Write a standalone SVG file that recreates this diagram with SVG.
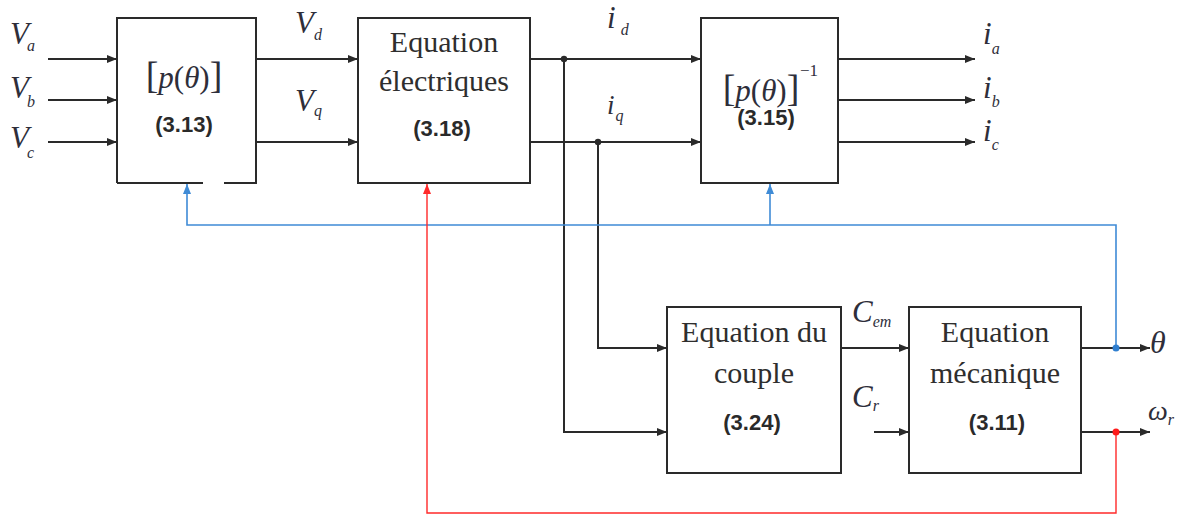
<svg xmlns="http://www.w3.org/2000/svg" width="1180" height="515" viewBox="0 0 1180 515">
<style>
.box{fill:#fff;stroke:#2a2a2a;stroke-width:2}
.w{fill:none;stroke:#2a2a2a;stroke-width:2}
.blue{fill:none;stroke:#3f8bd6;stroke-width:1.6}
.red{fill:none;stroke:#ff2a2a;stroke-width:1.4}
.t{font-family:"Liberation Serif",serif;font-size:30px;fill:#2e2e2e;text-anchor:middle}
.n{font-family:"Liberation Sans",sans-serif;font-weight:bold;font-size:22px;fill:#2a2a2a;text-anchor:middle}
.m{font-family:"Liberation Serif",serif;font-style:italic;fill:#2e2e3a}
.big{font-size:31px}
.sub{font-size:16px}
</style>
<defs>
<marker id="ak" markerUnits="userSpaceOnUse" markerWidth="10" markerHeight="8" refX="10" refY="4" orient="auto"><path d="M0,0 L10,4 L0,8 z" fill="#2a2a2a"/></marker>
<marker id="ab" markerUnits="userSpaceOnUse" markerWidth="10" markerHeight="8" refX="10" refY="4" orient="auto"><path d="M0,0 L10,4 L0,8 z" fill="#3f8bd6"/></marker>
<marker id="ar" markerUnits="userSpaceOnUse" markerWidth="10" markerHeight="8" refX="10" refY="4" orient="auto"><path d="M0,0 L10,4 L0,8 z" fill="#ff2a2a"/></marker>
</defs>

<g id="connectors">
  <line class="w" x1="48" y1="59" x2="117" y2="59" marker-end="url(#ak)"/>
  <line class="w" x1="48" y1="100" x2="117" y2="100" marker-end="url(#ak)"/>
  <line class="w" x1="48" y1="142" x2="117" y2="142" marker-end="url(#ak)"/>
  <line class="w" x1="256" y1="59" x2="358" y2="59" marker-end="url(#ak)"/>
  <line class="w" x1="256" y1="142" x2="358" y2="142" marker-end="url(#ak)"/>
  <line class="w" x1="530" y1="59" x2="701" y2="59" marker-end="url(#ak)"/>
  <line class="w" x1="530" y1="142" x2="701" y2="142" marker-end="url(#ak)"/>
  <line class="w" x1="838" y1="59" x2="975" y2="59" marker-end="url(#ak)"/>
  <line class="w" x1="838" y1="100" x2="975" y2="100" marker-end="url(#ak)"/>
  <line class="w" x1="838" y1="142" x2="975" y2="142" marker-end="url(#ak)"/>
  <polyline class="w" points="598,142 598,348 667,348" marker-end="url(#ak)"/>
  <polyline class="w" points="564,59 564,432 667,432" marker-end="url(#ak)"/>
  <line class="w" x1="841" y1="348" x2="909" y2="348" marker-end="url(#ak)"/>
  <line class="w" x1="874" y1="432" x2="909" y2="432" marker-end="url(#ak)"/>
  <line class="w" x1="1081" y1="348" x2="1150" y2="348" marker-end="url(#ak)"/>
  <line class="w" x1="1081" y1="432" x2="1150" y2="432" marker-end="url(#ak)"/>
  <circle cx="564" cy="59" r="3.2" fill="#2a2a2a"/>
  <circle cx="598" cy="142" r="3.2" fill="#2a2a2a"/>
  <polyline class="blue" points="1116,348 1116,225 187,225 187,184" marker-end="url(#ab)"/>
  <line class="blue" x1="770" y1="225" x2="770" y2="184" marker-end="url(#ab)"/>
  <polyline class="red" points="1116,432 1116,513 427,513 427,184" marker-end="url(#ar)"/>
  <circle cx="1116" cy="348" r="3.5" fill="#2f7fd0"/>
  <circle cx="1116" cy="432" r="3.5" fill="#ff1a1a"/>
</g>

<g id="park">
  <path class="w" d="M117,183 L117,18 L256,18 L256,183 L224,183 M203,183 L117,183"/>
  <text class="m" x="184" y="88" text-anchor="middle" font-size="31"><tspan font-style="normal" font-size="38">[</tspan>p<tspan font-style="normal">(</tspan>θ<tspan font-style="normal">)</tspan><tspan font-style="normal" font-size="38">]</tspan></text>
  <text class="n" x="184" y="132">(3.13)</text>
</g>

<g id="elec">
  <rect class="box" x="358" y="18" width="172" height="165"/>
  <text class="t" x="444" y="52">Equation</text>
  <text class="t" x="444" y="91">électriques</text>
  <text class="n" x="442" y="136">(3.18)</text>
</g>

<g id="invpark">
  <rect class="box" x="701" y="18" width="137" height="165"/>
  <text class="m" x="761" y="101" text-anchor="middle" font-size="31"><tspan font-style="normal" font-size="38">[</tspan>p<tspan font-style="normal">(</tspan>θ<tspan font-style="normal">)</tspan><tspan font-style="normal" font-size="38">]</tspan></text>
  <text x="800" y="76" font-family="Liberation Serif,serif" font-size="17" fill="#2e2e3a">−1</text>
  <text class="n" x="766" y="125">(3.15)</text>
</g>

<g id="couple">
  <rect class="box" x="667" y="307" width="174" height="166"/>
  <text class="t" x="754" y="342">Equation du</text>
  <text class="t" x="754" y="383">couple</text>
  <text class="n" x="752" y="430">(3.24)</text>
</g>

<g id="meca">
  <rect class="box" x="909" y="307" width="172" height="166"/>
  <text class="t" x="995" y="342">Equation</text>
  <text class="t" x="995" y="383">mécanique</text>
  <text class="n" x="997" y="430">(3.11)</text>
</g>

<g id="labels" class="m">
  <text x="10" y="44" class="big">V<tspan class="sub" dx="-2" dy="7">a</tspan></text>
  <text x="10" y="98" class="big">V<tspan class="sub" dx="-2" dy="9">b</tspan></text>
  <text x="10" y="148" class="big">V<tspan class="sub" dx="-2" dy="10">c</tspan></text>
  <text x="295" y="33" class="big">V<tspan class="sub" dx="0" dy="7">d</tspan></text>
  <text x="295" y="111" class="big">V<tspan class="sub" dx="0" dy="5">q</tspan></text>
  <text x="607" y="28" class="big">i<tspan class="sub" dx="5" dy="7">d</tspan></text>
  <text x="607" y="114" font-size="27">i<tspan class="sub" dx="1" dy="7">q</tspan></text>
  <text x="983" y="44" class="big">i<tspan class="sub" dx="0" dy="10">a</tspan></text>
  <text x="983" y="98" class="big">i<tspan class="sub" dx="0" dy="9">b</tspan></text>
  <text x="983" y="141" class="big">i<tspan class="sub" dx="0" dy="9">c</tspan></text>
  <text x="852" y="322" class="big">C<tspan class="sub" dx="0" dy="5" font-size="13">em</tspan></text>
  <text x="852" y="407" class="big">C<tspan class="sub" dx="0" dy="4">r</tspan></text>
  <text x="1150" y="353" font-size="32">θ</text>
  <text x="1148" y="420" font-size="28">ω<tspan class="sub" dx="0" dy="5">r</tspan></text>
</g>
</svg>
